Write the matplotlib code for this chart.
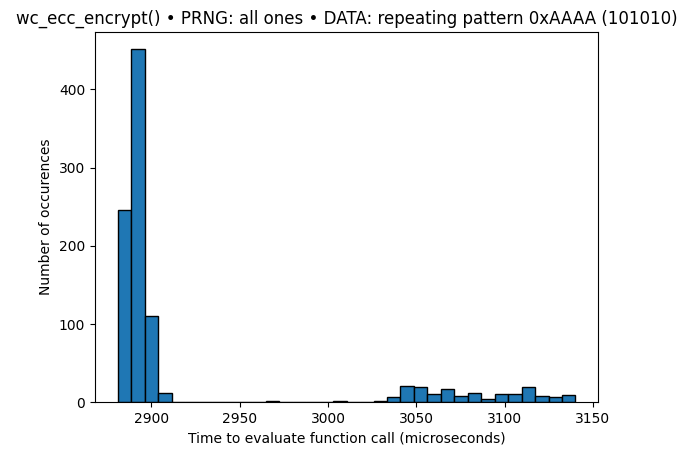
import numpy as np
import matplotlib.pyplot as plt

# histogram bins
start = 2881.0
width = 7.62
counts = [246, 451, 110, 12, 0, 0, 0, 0, 0, 0, 0, 1, 0, 0, 0, 0, 1, 0, 0, 1,
          7, 21, 20, 11, 17, 8, 12, 4, 11, 10, 19, 8, 7, 9]

edges = start + width * np.arange(len(counts) + 1)
centers = (edges[:-1] + edges[1:]) / 2

plt.figure(figsize=(6.83, 4.55), dpi=100)
plt.subplots_adjust(left=0.139, right=0.876, top=0.93, bottom=0.116)
plt.hist(centers, bins=edges, weights=counts, edgecolor='black')
plt.title('wc_ecc_encrypt() • PRNG: all ones • DATA: repeating pattern 0xAAAA (101010)')
plt.xlabel('Time to evaluate function call (microseconds)')
plt.ylabel('Number of occurences')
plt.savefig('out.png')
